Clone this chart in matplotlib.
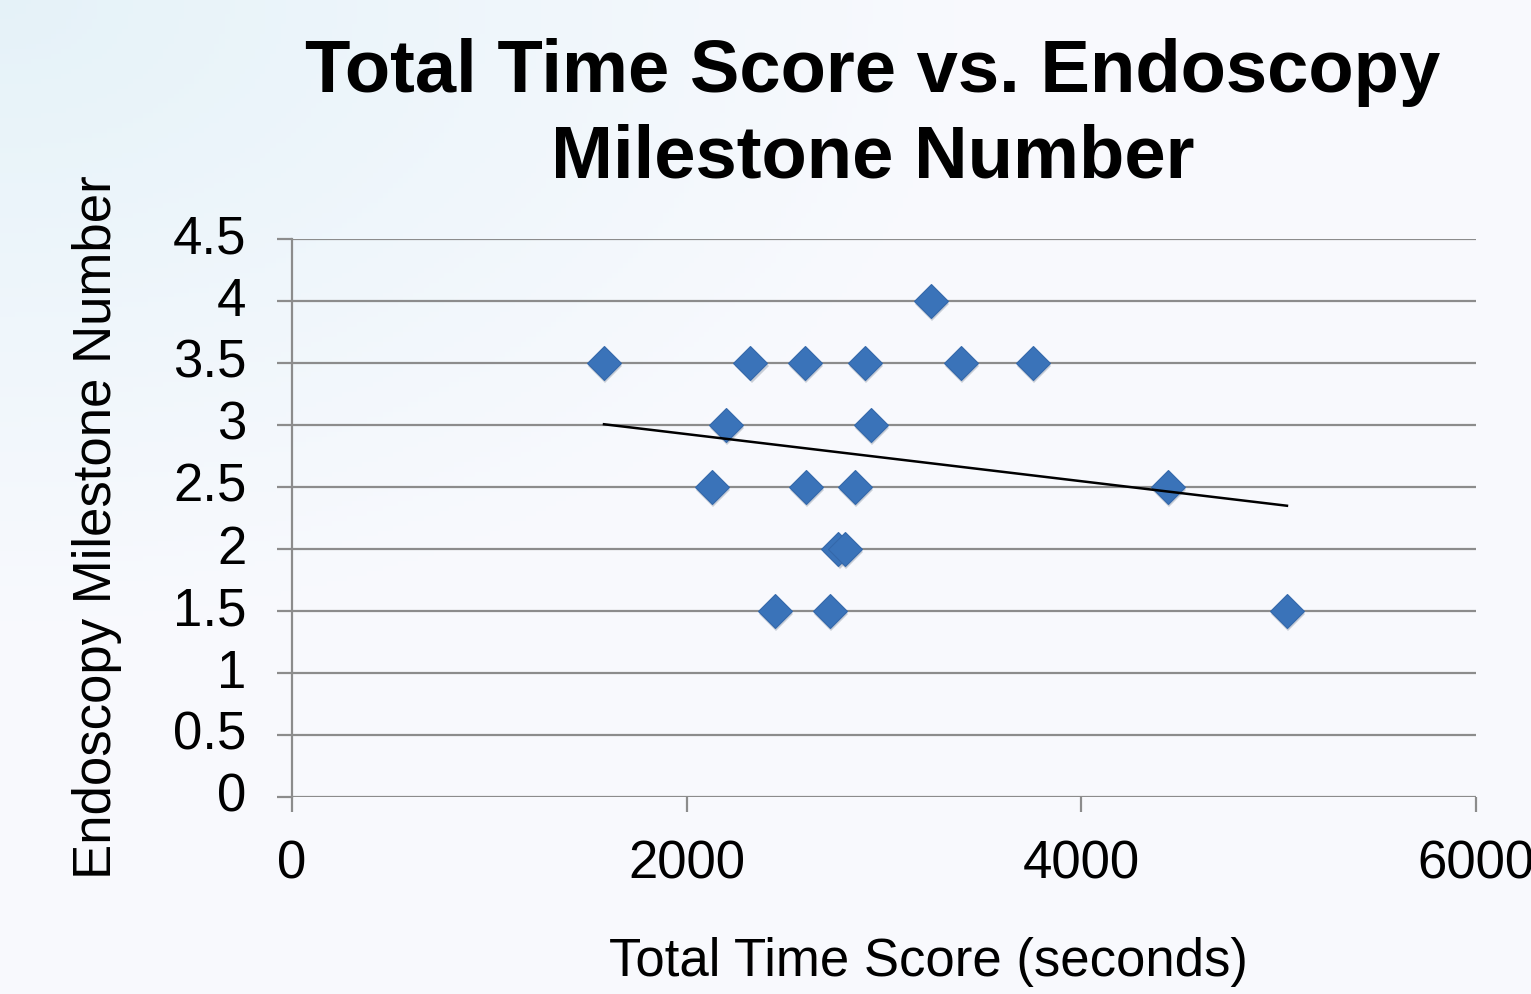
import numpy as np
import matplotlib
matplotlib.use("Agg")
import matplotlib.pyplot as plt
import matplotlib.transforms as mtransforms

# Data
total_time = [1581, 2321, 2599, 2903, 3390, 3755, 3238, 2199, 2934,
              2128, 2604, 2853, 4439, 2767, 2802, 2447, 2726, 5042]
milestone = [3.5, 3.5, 3.5, 3.5, 3.5, 3.5, 4.0, 3.0, 3.0,
             2.5, 2.5, 2.5, 2.5, 2.0, 2.0, 1.5, 1.5, 1.5]
x_ticks = [0, 2000, 4000, 6000]
y_ticks = [0, 0.5, 1, 1.5, 2, 2.5, 3, 3.5, 4, 4.5]
y_tick_labels = ["0", "0.5", "1", "1.5", "2", "2.5", "3", "3.5", "4", "4.5"]

plt.rcParams['font.family'] = ['Liberation Sans', 'DejaVu Sans']

W, H = 1531, 995
fig = plt.figure(figsize=(W / 100, H / 100), dpi=100)

# background gradient
bg = fig.add_axes([0, 0, 1, 1], zorder=-10)
h, w = 200, 300
yy, xx = np.mgrid[0:h, 0:w]
d = np.sqrt((xx / w) ** 2 + (yy / h) ** 2) / np.sqrt(2)
c0 = np.array([0.90, 0.95, 0.975])
c1 = np.array([0.975, 0.98, 0.995])
t = np.clip(d * 2.2, 0, 1)[..., None]
img = c0 * (1 - t) + c1 * t
bg.imshow(img, extent=[0, 1, 0, 1], aspect='auto', origin='upper')
bg.axis('off')

ax = fig.add_axes([292 / W, 1 - 798 / H, (1476 - 292) / W, (798 - 240) / H])
ax.patch.set_alpha(0)
ax.set_xlim(0, 6000)
ax.set_ylim(0, 4.5)

for yv in y_ticks:
    ax.axhline(yv, color='#8c8c8c', lw=1.6, zorder=1)

# shadow
shadow = mtransforms.offset_copy(ax.transData, fig=fig, x=1.5, y=-3, units='dots')
ax.plot(total_time, milestone, 'D', ms=17, color='#9aa3b0', alpha=0.5,
        markeredgewidth=0, transform=shadow, zorder=2, clip_on=False)
ax.plot(total_time, milestone, 'D', ms=17, color='#3a73b9',
        markeredgecolor='#3468aa', markeredgewidth=0.8, zorder=3, clip_on=False)

# linear trendline
coef = np.polyfit(total_time, milestone, 1)
xs = np.array([min(total_time), max(total_time)])
ax.plot(xs, np.polyval(coef, xs), color='black', lw=1.8, zorder=4)

for s in ['top', 'right', 'bottom']:
    ax.spines[s].set_visible(False)
ax.spines['left'].set_color('#8c8c8c')
ax.spines['left'].set_linewidth(1.6)

ax.set_xticks(x_ticks)
ax.set_xticklabels([str(v) for v in x_ticks], fontsize=38)
ax.set_yticks(y_ticks)
ax.set_yticklabels(y_tick_labels, fontsize=38)
ax.tick_params(axis='x', length=10.8, width=1.6, color='#8c8c8c', pad=19)
ax.tick_params(axis='y', length=10.8, width=1.6, color='#8c8c8c', pad=22)
for lab in ax.get_yticklabels():
    lab.set_verticalalignment('center')

fig.text(928 / W, 1 - 962 / H, "Total Time Score (seconds)", fontsize=38,
         ha='center', va='center')
fig.text(97 / W, 1 - 527 / H, "Endoscopy Milestone Number", fontsize=38,
         ha='center', va='center', rotation=90)

fig.text(873 / W, 1 - 115 / H, "Total Time Score vs. Endoscopy\nMilestone Number",
         ha='center', va='center', fontsize=53.5, fontweight='bold', linespacing=1.3)

fig.savefig("out.png", dpi=100)
